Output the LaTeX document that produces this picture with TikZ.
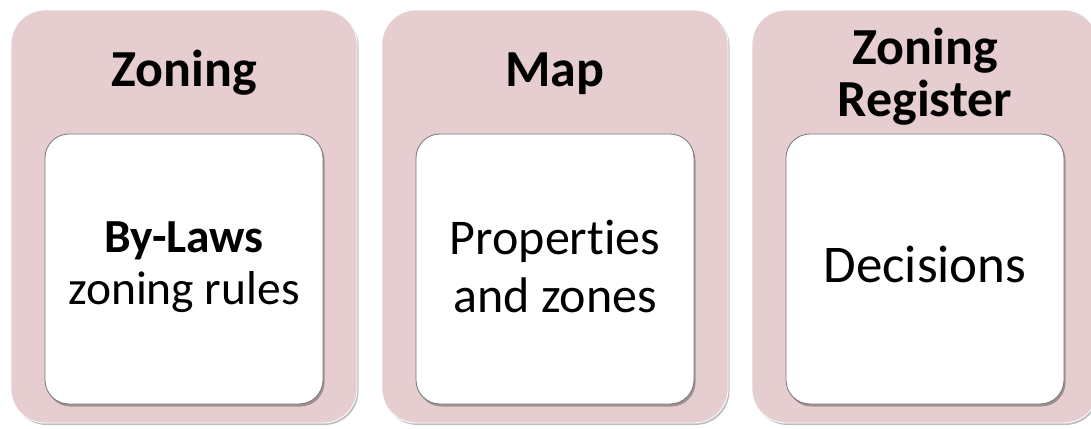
\documentclass[tikz,border=0pt]{standalone}
\usepackage{fontspec}
\setmainfont{Carlito}[Ligatures=NoCommon]
\usetikzlibrary{shadows}
\definecolor{panelpink}{RGB}{230,206,208}
\definecolor{cardline}{RGB}{118,118,118}
\begin{document}
\begin{tikzpicture}[x=1pt,y=1pt,
    panel/.style={draw=white, line width=0.8pt, fill=panelpink, rounded corners=34pt,
      minimum width=346pt, minimum height=413pt, inner sep=0pt,
      drop shadow={shadow xshift=1.5pt, shadow yshift=-2pt, fill=black, opacity=0.25}},
    card/.style={draw=cardline, line width=0.8pt, fill=white, rounded corners=24pt,
      minimum width=278pt, minimum height=270pt, inner sep=0pt,
      drop shadow={shadow xshift=1.5pt, shadow yshift=-2.5pt, fill=black, opacity=0.3}},
    head/.style={anchor=base, inner sep=0pt, font=\fontsize{52}{62}\selectfont\bfseries},
    body/.style={anchor=base, inner sep=0pt}
]
\useasboundingbox (0,0) rectangle (1091,428);
\begin{scope}
\clip (0,0) rectangle (1091,428);
\foreach \i/\x in {1/184,2/555,3/925} {
  \node[panel] (p\i) at (\x,211.5) {};
  \node[card] (c\i) at (\x,159) {};
}
\end{scope}
% headings
\node[head] (h1) at (184,341) {Zoning};
\node[head] (h2) at (555,341) {Map};
\node[head] (h3a) at (925,363) {Zoning};
\node[head] (h3b) at (925,311) {Register};
% card texts
\node[body, font=\fontsize{47.5}{57}\selectfont] (b1a) at (184,175) {\textbf{By-Laws}};
\node[body, font=\fontsize{47.5}{57}\selectfont] (b1b) at (184,123) {zoning rules};
\node[body, font=\fontsize{50}{60}\selectfont] (b2a) at (555,173) {Properties};
\node[body, font=\fontsize{50}{60}\selectfont] (b2b) at (555,115) {and zones};
\node[body, font=\fontsize{53}{63}\selectfont] (b3) at (925,145) {Decisions};
\end{tikzpicture}
\end{document}
